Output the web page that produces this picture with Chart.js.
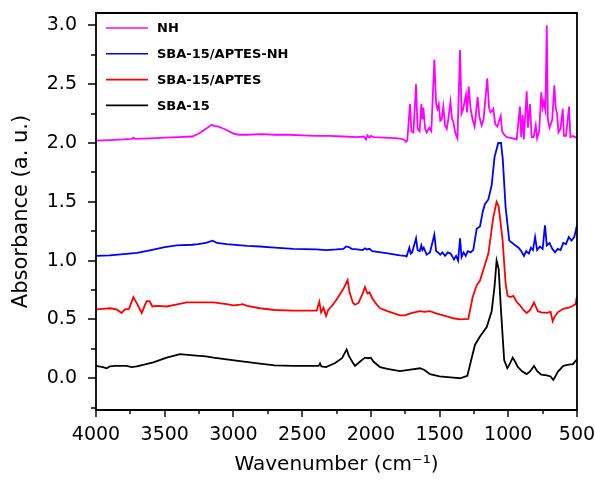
<!DOCTYPE html>
<html>
<head>
<meta charset="utf-8">
<script src="https://cdn.jsdelivr.net/npm/chart.js@4.4.0/dist/chart.umd.min.js"></script>
<style>
  html, body { margin: 0; padding: 0; background: #fff; }
  #wrap { width: 595px; height: 480px; }
</style>
</head>
<body>
<div id="wrap"><canvas id="ftir" width="595" height="480"></canvas></div>
<script>
// FTIR spectra (wavenumber in cm-1, absorbance in a.u.)

const seriesLabels = ['NH', 'SBA-15/APTES-NH', 'SBA-15/APTES', 'SBA-15'];
const seriesColors = ['#ff00ff', '#0000ff', '#ff0000', '#000000'];

const nhWn = [4000, 3900, 3800, 3740, 3730, 3715, 3600, 3500, 3400, 3300, 3250, 3200, 3160, 3140, 3110, 3050, 3000, 2960, 2900, 2800,
  2700, 2600, 2500, 2400, 2300, 2200, 2100, 2050, 2035, 2025, 2010, 2000, 1980, 1900, 1800, 1760, 1745, 1735, 1715, 1705,
  1690, 1671, 1660, 1645, 1633, 1625, 1618, 1605, 1594, 1575, 1560, 1538, 1525, 1516, 1506, 1495, 1485, 1473, 1460, 1448,
  1437, 1421, 1410, 1400, 1387, 1370, 1351, 1340, 1330, 1308, 1300, 1288, 1275, 1260, 1245, 1223, 1210, 1194, 1180, 1153,
  1140, 1130, 1120, 1109, 1095, 1080, 1055, 1045, 1030, 1011, 965, 939, 915, 906, 895, 887, 866, 857, 842, 830,
  815, 800, 790, 775, 760, 750, 742, 730, 720, 712, 700, 680, 665, 655, 645, 635, 620, 604, 595, 580,
  558, 548, 530, 514, 500];
const nhAbs = [2.02, 2.025, 2.03, 2.035, 2.045, 2.035, 2.04, 2.045, 2.05, 2.055, 2.08, 2.12, 2.155, 2.145, 2.14, 2.11, 2.08, 2.07, 2.07, 2.075,
  2.07, 2.07, 2.065, 2.06, 2.06, 2.055, 2.05, 2.055, 2.03, 2.065, 2.045, 2.06, 2.05, 2.045, 2.04, 2.03, 2.01, 2.02, 2.33, 2.10,
  2.09, 2.50, 2.12, 2.10, 2.33, 2.20, 2.30, 2.12, 2.09, 2.13, 2.10, 2.71, 2.33, 2.29, 2.33, 2.19, 2.20, 2.31, 2.15, 2.12,
  2.20, 2.35, 2.21, 2.18, 2.09, 2.04, 2.79, 2.25, 2.28, 2.41, 2.26, 2.48, 2.30, 2.20, 2.14, 2.39, 2.22, 2.15, 2.20, 2.55,
  2.30, 2.26, 2.27, 2.29, 2.16, 2.14, 2.23, 2.10, 2.07, 2.05, 2.04, 2.03, 2.31, 2.05, 2.24, 2.03, 2.44, 2.13, 2.33, 2.05,
  2.05, 2.15, 2.04, 2.10, 2.43, 2.30, 2.35, 2.28, 3.00, 2.20, 2.13, 2.20, 2.49, 2.30, 2.25, 2.09, 2.12, 2.29, 2.06, 2.06,
  2.31, 2.05, 2.06, 2.05, 2.04];

const aptesNhWn = [4000, 3900, 3800, 3700, 3600, 3500, 3413, 3300, 3258, 3200, 3151, 3120, 3049, 2900, 2807, 2700, 2566, 2400, 2321, 2250,
  2200, 2180, 2160, 2140, 2100, 2060, 2043, 2030, 2010, 1990, 1900, 1788, 1750, 1740, 1720, 1710, 1700, 1671, 1660, 1645,
  1633, 1625, 1615, 1594, 1570, 1538, 1525, 1510, 1495, 1480, 1460, 1440, 1420, 1395, 1380, 1365, 1351, 1340, 1325, 1310,
  1295, 1275, 1255, 1230, 1206, 1185, 1170, 1145, 1121, 1100, 1073, 1053, 1040, 1020, 993, 970, 950, 925, 905, 886,
  870, 850, 835, 820, 805, 790, 770, 750, 733, 720, 700, 680, 660, 640, 620, 600, 580, 560, 540, 520, 500];
const aptesNhAbs = [1.04, 1.045, 1.055, 1.065, 1.09, 1.115, 1.13, 1.135, 1.14, 1.15, 1.17, 1.15, 1.14, 1.125, 1.12, 1.11, 1.10, 1.095, 1.09, 1.095,
  1.10, 1.12, 1.115, 1.10, 1.095, 1.09, 1.105, 1.095, 1.10, 1.08, 1.065, 1.045, 1.04, 1.035, 1.11, 1.06, 1.07, 1.19, 1.09, 1.08,
  1.13, 1.09, 1.11, 1.05, 1.07, 1.22, 1.08, 1.07, 1.05, 1.07, 1.04, 1.07, 1.06, 1.01, 1.04, 1.00, 1.19, 1.03, 1.07, 1.04,
  1.08, 1.07, 1.09, 1.27, 1.29, 1.42, 1.48, 1.52, 1.64, 1.88, 2.00, 2.00, 1.86, 1.46, 1.17, 1.15, 1.13, 1.11, 1.08, 1.04,
  1.08, 1.06, 1.11, 1.09, 1.20, 1.09, 1.12, 1.10, 1.30, 1.13, 1.15, 1.10, 1.07, 1.10, 1.09, 1.15, 1.14, 1.20, 1.17, 1.20, 1.30];

const aptesWn = [4000, 3950, 3900, 3850, 3813, 3790, 3760, 3728, 3700, 3667, 3645, 3631, 3610, 3590, 3550, 3486, 3400, 3340, 3200, 3146,
  3050, 3001, 2950, 2933, 2900, 2807, 2700, 2564, 2450, 2394, 2375, 2362, 2345, 2326, 2310, 2280, 2249, 2200, 2169, 2155,
  2130, 2115, 2090, 2060, 2043, 2025, 2010, 1990, 1960, 1933, 1880, 1788, 1752, 1700, 1642, 1610, 1570, 1520, 1448, 1400,
  1351, 1291, 1259, 1230, 1206, 1182, 1145, 1109, 1085, 1070, 1041, 1020, 1005, 985, 963, 940, 915, 890, 866, 840,
  813, 800, 785, 760, 720, 692, 677, 665, 640, 600, 560, 540, 510, 500];
const aptesAbs = [0.585, 0.59, 0.595, 0.585, 0.555, 0.585, 0.59, 0.69, 0.63, 0.555, 0.62, 0.655, 0.655, 0.61, 0.615, 0.61, 0.63, 0.645, 0.645, 0.645,
  0.63, 0.62, 0.625, 0.63, 0.615, 0.595, 0.58, 0.575, 0.575, 0.575, 0.65, 0.56, 0.60, 0.53, 0.58, 0.62, 0.67, 0.76, 0.835, 0.73,
  0.64, 0.625, 0.64, 0.72, 0.775, 0.72, 0.73, 0.68, 0.63, 0.595, 0.57, 0.535, 0.535, 0.555, 0.57, 0.565, 0.57, 0.55, 0.525, 0.51,
  0.50, 0.505, 0.69, 0.79, 0.83, 0.92, 1.06, 1.37, 1.50, 1.46, 1.17, 0.81, 0.70, 0.69, 0.70, 0.65, 0.62, 0.58, 0.555, 0.58,
  0.645, 0.61, 0.57, 0.56, 0.555, 0.565, 0.485, 0.52, 0.56, 0.59, 0.60, 0.61, 0.63, 0.70];

const sbaWn = [4000, 3950, 3922, 3900, 3860, 3813, 3777, 3740, 3704, 3650, 3583, 3486, 3389, 3292, 3200, 3146, 3050, 2952, 2807, 2700,
  2564, 2450, 2380, 2370, 2360, 2326, 2260, 2210, 2176, 2160, 2130, 2115, 2080, 2043, 2020, 2000, 1980, 1933, 1880, 1788,
  1700, 1642, 1610, 1570, 1500, 1400, 1351, 1298, 1270, 1242, 1206, 1157, 1121, 1100, 1085, 1070, 1053, 1030, 1007, 990,
  968, 950, 930, 900, 866, 840, 813, 790, 760, 720, 692, 673, 660, 640, 600, 560, 530, 500];
const sbaAbs = [0.105, 0.095, 0.085, 0.10, 0.105, 0.105, 0.105, 0.095, 0.10, 0.115, 0.135, 0.175, 0.205, 0.195, 0.185, 0.175, 0.16, 0.145, 0.125, 0.11,
  0.105, 0.105, 0.105, 0.125, 0.10, 0.095, 0.13, 0.17, 0.245, 0.19, 0.13, 0.105, 0.14, 0.175, 0.17, 0.175, 0.14, 0.095, 0.08, 0.06,
  0.075, 0.085, 0.07, 0.035, 0.015, 0.005, 0.0, 0.02, 0.155, 0.285, 0.355, 0.435, 0.57, 0.78, 1.00, 0.93, 0.575, 0.155, 0.085, 0.12,
  0.175, 0.14, 0.095, 0.06, 0.035, 0.06, 0.105, 0.06, 0.03, 0.025, 0.015, -0.015, 0.01, 0.055, 0.105, 0.115, 0.12, 0.16];

const xMajor = [500, 1000, 1500, 2000, 2500, 3000, 3500, 4000];
const xMinor = [750, 1250, 1750, 2250, 2750, 3250, 3750];
const yMajor = [0, 0.5, 1.0, 1.5, 2.0, 2.5, 3.0];
const yMinor = [-0.25, 0.25, 0.75, 1.25, 1.75, 2.25, 2.75];

const toPoints = (wn, abs) => wn.map((w, i) => ({ x: w, y: abs[i] }));
const seriesData = [
  toPoints(nhWn, nhAbs),
  toPoints(aptesNhWn, aptesNhAbs),
  toPoints(aptesWn, aptesAbs),
  toPoints(sbaWn, sbaAbs)
];

const FONT = '"DejaVu Sans", Arial, sans-serif';

// plot frame + outward tick marks (major and minor) placed through the scales
const frameTicks = {
  id: 'frameTicks',
  afterDraw(chart) {
    const { ctx, chartArea: a, scales: { x, y } } = chart;
    ctx.save();
    ctx.strokeStyle = '#000';
    ctx.lineWidth = 1.8;
    ctx.beginPath();
    ctx.moveTo(a.left, a.top);
    ctx.lineTo(a.right, a.top);
    ctx.lineTo(a.right, a.bottom);
    ctx.lineTo(a.left, a.bottom);
    ctx.closePath();
    ctx.stroke();
    ctx.lineWidth = 1.4;
    ctx.beginPath();
    xMajor.forEach(v => { const p = Math.round(x.getPixelForValue(v)); ctx.moveTo(p, a.bottom); ctx.lineTo(p, a.bottom + 7); });
    xMinor.forEach(v => { const p = Math.round(x.getPixelForValue(v)); ctx.moveTo(p, a.bottom); ctx.lineTo(p, a.bottom + 4); });
    yMajor.forEach(v => { const p = Math.round(y.getPixelForValue(v)); ctx.moveTo(a.left, p); ctx.lineTo(a.left - 8, p); });
    yMinor.forEach(v => { const p = Math.round(y.getPixelForValue(v)); ctx.moveTo(a.left, p); ctx.lineTo(a.left - 5, p); });
    ctx.stroke();
    ctx.restore();
  }
};

// legend in the top-left corner of the plot: line sample + bold label
const insideLegend = {
  id: 'insideLegend',
  afterDraw(chart) {
    const { ctx, chartArea: a } = chart;
    ctx.save();
    ctx.font = 'bold 13px ' + FONT;
    ctx.textBaseline = 'middle';
    ctx.fillStyle = '#000';
    chart.data.datasets.forEach((ds, i) => {
      const ly = a.top + 15 + i * 25.8;
      ctx.strokeStyle = ds.borderColor;
      ctx.lineWidth = 1.6;
      ctx.beginPath();
      ctx.moveTo(a.left + 10, ly);
      ctx.lineTo(a.left + 52, ly);
      ctx.stroke();
      ctx.fillText(ds.label, a.left + 61, ly + 1);
    });
    ctx.restore();
  }
};

new Chart(document.getElementById('ftir'), {
  type: 'line',
  data: {
    datasets: seriesLabels.map((label, i) => ({
      label,
      data: seriesData[i],
      borderColor: seriesColors[i],
      backgroundColor: seriesColors[i],
      borderWidth: 1.8,
      pointRadius: 0,
      tension: 0,
      fill: false
    }))
  },
  options: {
    responsive: false,
    animation: false,
    devicePixelRatio: 1,
    layout: { padding: { top: 13, right: 18, left: 0, bottom: 0 } },
    plugins: {
      legend: { display: false },
      tooltip: { enabled: false }
    },
    scales: {
      x: {
        type: 'linear',
        reverse: true,
        min: 500,
        max: 4000,
        afterBuildTicks: s => { s.ticks = xMajor.map(v => ({ value: v })); },
        afterFit: s => { s.height = 70; s.paddingLeft = 0; s.paddingRight = 0; },
        grid: { display: false, drawTicks: false },
        border: { display: false },
        ticks: {
          color: '#000',
          font: { family: FONT, size: 19 },
          padding: 14,
          maxRotation: 0,
          autoSkip: false,
          callback: v => String(v)
        },
        title: {
          display: true,
          text: 'Wavenumber (cm\u207B\u00B9)',
          color: '#000',
          font: { family: FONT, size: 20 },
          padding: { top: 0, bottom: 3 }
        }
      },
      y: {
        min: -0.27,
        max: 3.105,
        afterBuildTicks: s => { s.ticks = yMajor.map(v => ({ value: v })); },
        afterFit: s => { s.width = 96; s.paddingTop = 0; s.paddingBottom = 0; },
        grid: { display: false, drawTicks: false },
        border: { display: false },
        ticks: {
          color: '#000',
          font: { family: FONT, size: 19 },
          padding: 19,
          callback: v => v.toFixed(1)
        },
        title: {
          display: true,
          text: 'Absorbance (a. u.)',
          color: '#000',
          font: { family: FONT, size: 21 },
          padding: { top: 9, bottom: 0 }
        }
      }
    }
  },
  plugins: [frameTicks, insideLegend]
});
</script>
</body>
</html>
